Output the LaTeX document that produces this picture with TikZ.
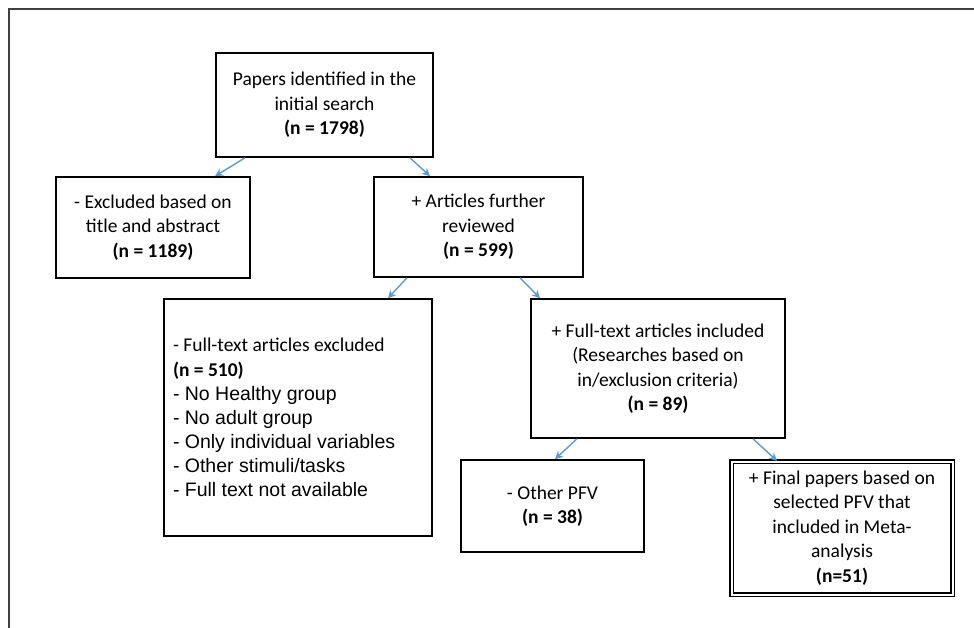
\documentclass[tikz,border=0pt]{standalone}
\usepackage{fontspec}
\setmainfont{Carlito}
\newfontfamily\arialfont{Liberation Sans}
\usetikzlibrary{arrows.meta}
\definecolor{arrblue}{HTML}{5B9BD5}
\begin{document}
\begin{tikzpicture}[x=1pt,y=-1pt,
  box/.style={draw=black,line width=1.6pt,inner sep=0pt,align=center,
    font=\fontsize{19.5}{24.5}\selectfont},
  arr/.style={draw=arrblue,line width=1.4pt,-{Stealth[length=8pt,width=8pt]}}]
\useasboundingbox (0,0) rectangle (974,628);
\draw[line width=1.6pt,draw=black!75] (9,640) -- (9,9) -- (990,9);
\node[box,minimum width=217pt,minimum height=104pt] (top) at (324.5,105)
  {Papers identified in the\\initial search\\\textbf{(n = 1798)}};
\node[box,minimum width=194pt,minimum height=101pt] (excl) at (153,227.5)
  {- Excluded based on\\title and abstract\\\textbf{(n = 1189)}};
\node[box,minimum width=209pt,minimum height=100pt] (art) at (478.5,227)
  {+ Articles further\\reviewed\\\textbf{(n = 599)}};
\node[box,minimum width=268pt,minimum height=237pt,text width=250pt,align=none] (fte) at (298,417.5)
  {\raggedright - Full-text articles excluded\\[1pt]\textbf{(n = 510)}\\{\arialfont\fontsize{19.5}{24}\selectfont - No Healthy group\\- No adult group\\- Only individual variables\\- Other stimuli/tasks\\- Full text not available\par}};
\node[box,minimum width=254pt,minimum height=139pt] (fti) at (658,368.5)
  {+ Full-text articles included\\(Researches based on\\in/exclusion criteria)\\\textbf{(n = 89)}};
\node[box,minimum width=183pt,minimum height=92pt] (oth) at (552.5,506)
  {- Other PFV\\\textbf{(n = 38)}};
\node[box,double,line width=1.3pt,double distance=2pt,minimum width=221pt,minimum height=133pt] (fin) at (842,528)
  {+ Final papers based on\\selected PFV that\\included in Meta-\\analysis\\\textbf{(n=51)}};
\draw[arr] ([xshift=-79.5pt]top.south) -- ([xshift=62pt]excl.north);
\draw[arr] ([xshift=85.5pt]top.south) -- ([xshift=-48.5pt]art.north);
\draw[arr] ([xshift=-71.5pt]art.south) -- ([xshift=90pt]fte.north);
\draw[arr] ([xshift=41.5pt]art.south) -- ([xshift=-118pt]fti.north);
\draw[arr] ([xshift=-81pt]fti.south) -- ([xshift=2.5pt]oth.north);
\draw[arr] ([xshift=95pt]fti.south) -- ([xshift=-65pt]fin.north);
\end{tikzpicture}
\end{document}
